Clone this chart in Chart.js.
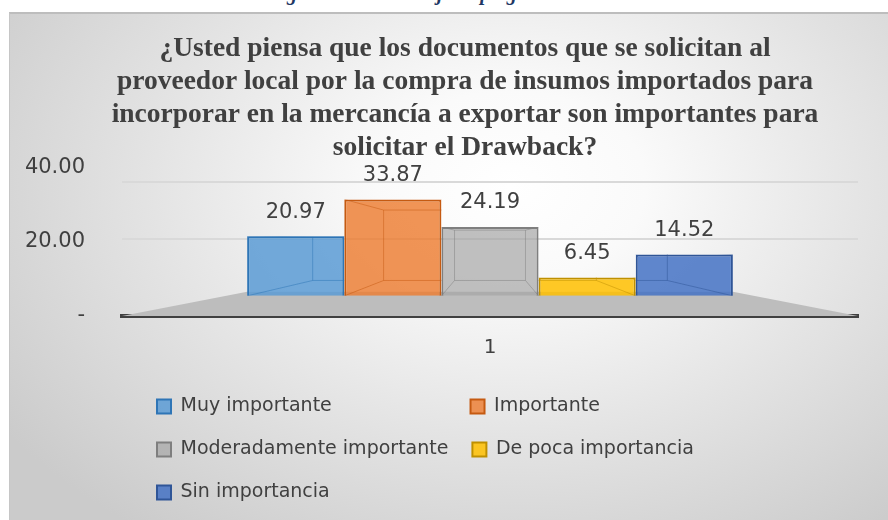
<!DOCTYPE html>
<html>
<head>
<meta charset="utf-8">
<script src="https://cdn.jsdelivr.net/npm/chart.js@4.4.1/dist/chart.umd.min.js"></script>
<style>
  html, body { margin: 0; padding: 0; background: #fff; }
  body { width: 888px; height: 520px; position: relative; overflow: hidden; }
  #cap { position: absolute; left: 0; top: 0; width: 888px; height: 12px; overflow: hidden; }
  #cap span { position: absolute; left: 268px; top: -18px; white-space: nowrap;
    font: italic bold 20px "Liberation Serif", serif; color: #1f3864; }
  #box { position: absolute; left: 9px; top: 12px; width: 879px; height: 508px; box-sizing: border-box;
    border-top: 2px solid #bdbdbd; border-left: 1px solid #c6c6c6;
    background: radial-gradient(ellipse 70% 85% at 57% 34%, #ffffff 0%, #fafafa 22%, #e4e4e4 58%, #cbcbcb 100%); }
  canvas { position: absolute; left: 0; top: 0; }
</style>
</head>
<body>
<div id="cap"><span>Figura 17: Porcentaje de pregunta 17</span></div>
<div id="box"></div>
<canvas id="chart" width="888" height="520"></canvas>
<script>
const categories = ['1'];
const seriesNames = ['Muy importante', 'Importante', 'Moderadamente importante', 'De poca importancia', 'Sin importancia'];
const seriesValues = [20.97, 33.87, 24.19, 6.45, 14.52];
const tickValues = [0, 20, 40];
const fillColors = ['rgba(91,155,213,0.85)', 'rgba(237,125,49,0.82)', 'rgba(165,165,165,0.7)', 'rgba(255,192,0,0.85)', 'rgba(68,114,196,0.85)'];
const edgeColors = ['#2e75b6', '#c55a11', '#7f7f7f', '#bf9000', '#2f5597'];
const titleLines = [
  '¿Usted piensa que los documentos que se solicitan al',
  'proveedor local por la compra de insumos importados para',
  'incorporar en la mercancía a exportar son importantes para',
  'solicitar el Drawback?'
];

const FONT = '"DejaVu Sans", sans-serif';
const TEXT = '#404040';

// pad legend texts so that the items line up in two columns
const meas = document.createElement('canvas').getContext('2d');
meas.font = '19px "DejaVu Sans"';
const widest = Math.max(...seriesNames.map(s => meas.measureText(s).width));
function padName(s) {
  while (meas.measureText(s + ' ').width <= widest) s += ' ';
  return s;
}

// fake 3d: grey floor under the bars, back edges seen through each box, value labels
const depthPlugin = {
  id: 'depth',
  afterLayout(chart) {
    chart.legend.left = chart.chartArea.left + 11;
  },
  beforeDatasetsDraw(chart) {
    const { ctx, chartArea } = chart;
    const first = chart.getDatasetMeta(0).data[0];
    const last = chart.getDatasetMeta(seriesValues.length - 1).data[0];
    const base = chart.scales.yb.getPixelForValue(0);
    ctx.save();
    ctx.fillStyle = '#bdbdbd';
    ctx.beginPath();
    ctx.moveTo(chartArea.left, chartArea.bottom);
    ctx.lineTo(first.x - first.width / 2, base - 4);
    ctx.lineTo(last.x + last.width / 2, base - 4);
    ctx.lineTo(chartArea.right, chartArea.bottom);
    ctx.closePath();
    ctx.fill();
    ctx.restore();
  },
  afterDatasetsDraw(chart) {
    const { ctx } = chart;
    const vx = chart.scales.x.getPixelForValue(0);
    const vy = chart.scales.yb.getPixelForValue(20);
    const k = 0.27;
    ctx.save();
    ctx.lineWidth = 1;
    seriesValues.forEach((v, i) => {
      const bar = chart.getDatasetMeta(i).data[0];
      const L = bar.x - bar.width / 2, R = bar.x + bar.width / 2, T = bar.y, B = bar.base;
      const bx = x => x + k * (vx - x), by = y => y + k * (vy - y);
      ctx.save();
      ctx.beginPath();
      ctx.rect(L, T, R - L, B - T);
      ctx.clip();
      ctx.strokeStyle = edgeColors[i];
      ctx.globalAlpha = 0.5;
      ctx.beginPath();
      ctx.rect(bx(L), by(T), bx(R) - bx(L), by(B) - by(T));
      [[L, T], [R, T], [L, B], [R, B]].forEach(([x, y]) => { ctx.moveTo(x, y); ctx.lineTo(bx(x), by(y)); });
      ctx.stroke();
      ctx.restore();
    });
    ctx.font = '21px ' + FONT;
    ctx.fillStyle = TEXT;
    ctx.textAlign = 'center';
    ctx.textBaseline = 'middle';
    seriesValues.forEach((v, i) => {
      const bar = chart.getDatasetMeta(i).data[0];
      ctx.fillText(v.toFixed(2), bar.x, bar.y - 24);
    });
    ctx.restore();
  }
};

new Chart(document.getElementById('chart'), {
  type: 'bar',
  data: {
    labels: categories,
    datasets: seriesNames.map((name, i) => ({
      label: name,
      data: [seriesValues[i]],
      backgroundColor: fillColors[i],
      borderColor: edgeColors[i],
      borderWidth: 2,
      yAxisID: 'yb',
      categoryPercentage: 0.66,
      barPercentage: 1
    }))
  },
  options: {
    responsive: false,
    animation: false,
    layout: { padding: { top: 12, left: 42, right: 0, bottom: 8 } },
    scales: {
      x: {
        grid: { display: false },
        border: { color: '#404040', width: 4 },
        ticks: { color: TEXT, font: { size: 20, family: FONT }, padding: 12 },
        afterFit: s => { s.height = 57; }
      },
      y: {
        position: 'left',
        min: 0,
        max: 41,
        grid: { display: false, drawTicks: false },
        border: { display: false },
        afterBuildTicks: s => { s.ticks = tickValues.map(v => ({ value: v })); },
        ticks: {
          color: TEXT,
          font: { size: 21, family: FONT },
          padding: 37,
          callback: v => v === 0 ? '-' : v.toFixed(2)
        },
        afterFit: s => { s.width = 80; s._computeLabelArea = () => undefined; }
      },
      yb: {
        position: 'right',
        min: -7.07,
        max: 46.29,
        border: { display: false },
        grid: { drawTicks: false, color: '#d9d9d9', lineWidth: 2 },
        afterBuildTicks: s => { s.ticks = tickValues.filter(v => v > 0).map(v => ({ value: v })); },
        ticks: { display: false },
        afterFit: s => { s.width = 30; }
      }
    },
    plugins: {
      title: {
        display: true,
        text: titleLines,
        color: TEXT,
        font: { family: '"Liberation Serif", serif', size: 27.5, weight: 'bold', lineHeight: '33px' },
        padding: { top: 20, bottom: 0 }
      },
      legend: {
        position: 'bottom',
        fullSize: false,
        align: 'start',
        labels: {
          color: TEXT,
          font: { size: 19, family: FONT },
          boxWidth: 14,
          boxHeight: 14,
          padding: 24,
          generateLabels: chart => Chart.defaults.plugins.legend.labels.generateLabels(chart)
            .map(l => Object.assign(l, { text: padName(l.text) }))
        }
      },
      tooltip: { enabled: false }
    }
  },
  plugins: [depthPlugin]
});
</script>
</body>
</html>
